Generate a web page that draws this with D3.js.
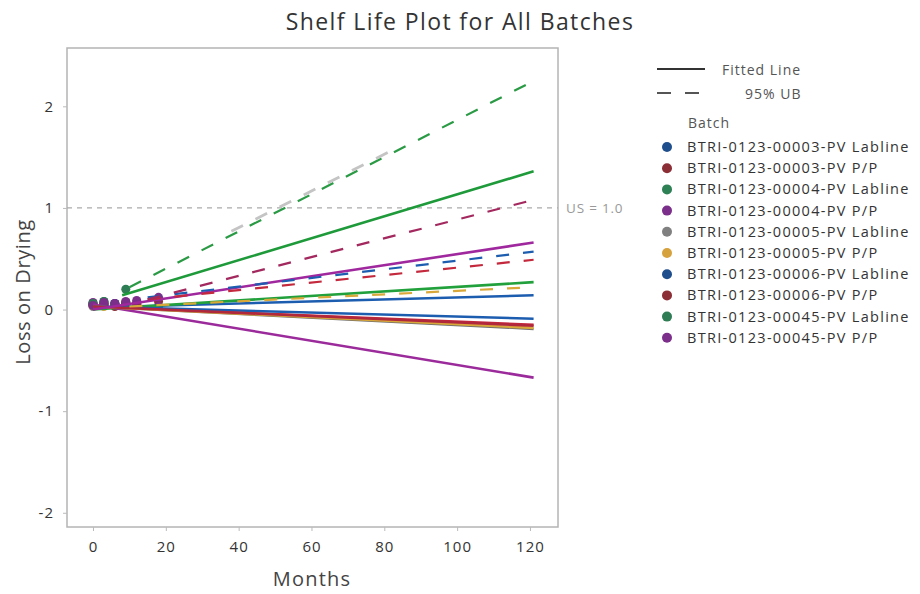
<!DOCTYPE html>
<html>
<head>
<meta charset="utf-8">
<script src="https://cdn.jsdelivr.net/npm/d3@7"></script>
<style>
  body { margin: 0; background: #fff; }
  text { font-family: 'Open Sans', 'Noto Sans', sans-serif; }
</style>
</head>
<body>
<div class="container"></div>
<script>
const batches = [
  'BTRI-0123-00003-PV Labline', 'BTRI-0123-00003-PV P/P',
  'BTRI-0123-00004-PV Labline', 'BTRI-0123-00004-PV P/P',
  'BTRI-0123-00005-PV Labline', 'BTRI-0123-00005-PV P/P',
  'BTRI-0123-00006-PV Labline', 'BTRI-0123-00006-PV P/P',
  'BTRI-0123-00045-PV Labline', 'BTRI-0123-00045-PV P/P'
]
const dotColors = ['#1f4e8c', '#8b2e35', '#2e8055', '#7b2f8a', '#808080', '#d6a23e', '#1f4e8c', '#8b2e35', '#2e7d55', '#7b2f8a']
const lineColors = ['#1d5db0', '#c4283c', '#21a03c', '#9b2a9b', '#6f6f6f', '#d9a83a', '#1d5db0', '#b0283c', '#1e9a3a', '#a0289e']

// fitted lines: start month, start value, end month, end value
const fitStartMonth = [0, 0, 0, 0, 0, 0, 0, 0, 8, 0]
const fitStart = [0.02, 0.03, 0.0, 0.05, 0.03, 0.03, 0.03, 0.03, 0.14, 0.0]
const fitEndMonth = [121, 121, 121, 121, 121, 121, 121, 121, 121, 121]
const fitEnd = [0.14, -0.15, 0.27, -0.67, -0.19, -0.18, -0.09, -0.16, 1.36, 0.66]

// 95% upper bound lines (only those visible)
const ubBatch = [0, 1, 5, 9, 8, 4]
const ubStartMonth = [15, 15, 10, 15, 10, 38]
const ubStart = [0.12, 0.1, 0.03, 0.1, 0.22, 0.77]
const ubEndMonth = [121, 121, 121, 121, 121, 84]
const ubEnd = [0.57, 0.49, 0.22, 1.08, 2.25, 1.6]
const ubColors = ['#1d5db0', '#c4283c', '#d9a83a', '#a3285e', '#2a9a45', '#c4c4c4']

// observed points
const pointMonths = [0, 3, 6, 9, 12, 18]
const pointValues = [
  [0.05, 0.06, 0.04, 0.05, 0.06, null],
  [0.04, 0.05, 0.03, 0.06, 0.05, 0.08],
  [0.06, 0.08, 0.05, 0.07, null, null],
  [0.07, 0.05, 0.06, 0.04, 0.05, 0.03],
  [0.03, 0.04, 0.05, null, null, null],
  [0.04, 0.03, 0.05, null, null, null],
  [0.05, 0.04, 0.06, 0.04, null, null],
  [0.05, 0.06, 0.04, 0.07, 0.06, null],
  [0.06, 0.08, 0.05, 0.2, null, null],
  [0.04, 0.07, 0.06, 0.08, 0.09, 0.12]
]

const xTicks = [0, 20, 40, 60, 80, 100, 120]
const yTicks = [-2, -1, 0, 1, 2]
const specLimit = 1.0

const w = 920
const h = 594
const pLeft = 67, pRight = 558, pTop = 48, pBottom = 527

const svg = d3.select('.container')
  .append('svg')
  .attr('width', w)
  .attr('height', h)

const xScale = d3.scaleLinear().domain([-7.14, 127.7]).range([pLeft, pRight])
const yScale = d3.scaleLinear().domain([-2.14, 2.574]).range([pBottom, pTop])

// frame
svg.append('rect')
  .attr('x', pLeft).attr('y', pTop)
  .attr('width', pRight - pLeft).attr('height', pBottom - pTop)
  .attr('fill', 'none').attr('stroke', '#b4b4b4').attr('stroke-width', 1.5)

const xAxis = d3.axisBottom(xScale).tickValues(xTicks).tickSize(4).tickPadding(10).tickFormat(d => String(d))
const yAxis = d3.axisLeft(yScale).tickValues(yTicks).tickSize(4).tickPadding(9).tickFormat(d => String(d))

const gx = svg.append('g').attr('transform', `translate(0, ${pBottom})`).call(xAxis)
const gy = svg.append('g').attr('transform', `translate(${pLeft}, 0)`).call(yAxis)
;[gx, gy].forEach(g => {
  g.select('.domain').remove()
  g.selectAll('line').attr('stroke', '#bbb')
  g.selectAll('text').attr('font-size', 15).attr('fill', '#333').attr('letter-spacing', 1)
})

// spec limit
svg.append('line')
  .attr('x1', pLeft).attr('x2', pRight)
  .attr('y1', yScale(specLimit)).attr('y2', yScale(specLimit))
  .attr('stroke', '#aaa').attr('stroke-width', 1.2).attr('stroke-dasharray', '5,5')
svg.append('text')
  .text('US = 1.0')
  .attr('x', 566).attr('y', yScale(specLimit) + 5)
  .attr('font-size', 13.5).attr('fill', '#999').attr('letter-spacing', 0.8)

const line = d3.line().x(d => xScale(d[0])).y(d => yScale(d[1]))

// points
batches.forEach((b, i) => {
  const pts = pointMonths.map((m, j) => [m, pointValues[i][j]]).filter(d => d[1] !== null)
  svg.append('g').selectAll('circle')
    .data(pts)
    .enter()
    .append('circle')
    .attr('cx', d => xScale(d[0]))
    .attr('cy', d => yScale(d[1]))
    .attr('r', 4.5)
    .attr('fill', dotColors[i])
})

// fitted lines
batches.forEach((b, i) => {
  svg.append('path')
    .attr('d', line([[fitStartMonth[i], fitStart[i]], [fitEndMonth[i], fitEnd[i]]]))
    .attr('fill', 'none')
    .attr('stroke', lineColors[i])
    .attr('stroke-width', 2.6)
})

// upper bounds
ubBatch.forEach((b, k) => {
  svg.append('path')
    .attr('d', line([[ubStartMonth[k], ubStart[k]], [ubEndMonth[k], ubEnd[k]]]))
    .attr('fill', 'none')
    .attr('stroke', ubColors[k])
    .attr('stroke-width', k === 5 ? 2.8 : 2.2)
    .attr('stroke-dasharray', '13,14')
})

// title and axis labels
svg.append('text')
  .text('Shelf Life Plot for All Batches')
  .attr('x', 460).attr('y', 30)
  .attr('text-anchor', 'middle')
  .attr('font-size', 23).attr('fill', '#333').attr('letter-spacing', 1.4)

svg.append('text')
  .text('Months')
  .attr('x', 312).attr('y', 586)
  .attr('text-anchor', 'middle')
  .attr('font-size', 20).attr('fill', '#444').attr('letter-spacing', 1.2)

svg.append('text')
  .text('Loss on Drying')
  .attr('transform', 'translate(30, 292) rotate(-90)')
  .attr('text-anchor', 'middle')
  .attr('font-size', 20).attr('fill', '#444').attr('letter-spacing', 0.6)

// legend
const lg = svg.append('g')
lg.append('line').attr('x1', 657).attr('x2', 705).attr('y1', 69).attr('y2', 69)
  .attr('stroke', '#333').attr('stroke-width', 2)
lg.append('text').text('Fitted Line').attr('x', 722).attr('y', 75)
  .attr('font-size', 14).attr('fill', '#555').attr('letter-spacing', 1)
lg.append('line').attr('x1', 657).attr('x2', 704).attr('y1', 93).attr('y2', 93)
  .attr('stroke', '#555').attr('stroke-width', 2).attr('stroke-dasharray', '14,14')
lg.append('text').text('95% UB').attr('x', 745).attr('y', 99)
  .attr('font-size', 14).attr('fill', '#555').attr('letter-spacing', 1)
lg.append('text').text('Batch').attr('x', 688).attr('y', 128)
  .attr('font-size', 14).attr('fill', '#555').attr('letter-spacing', 1)

const items = lg.selectAll('g.item')
  .data(batches)
  .enter()
  .append('g')
  .attr('class', 'item')
  .attr('transform', (d, i) => `translate(0, ${147 + i * 21.2})`)
items.append('circle').attr('cx', 667).attr('cy', 0).attr('r', 5).attr('fill', (d, i) => dotColors[i])
items.append('text').text(d => d).attr('x', 687).attr('y', 5)
  .attr('font-size', 14.5).attr('fill', '#333').attr('letter-spacing', 1.3)
</script>
</body>
</html>
